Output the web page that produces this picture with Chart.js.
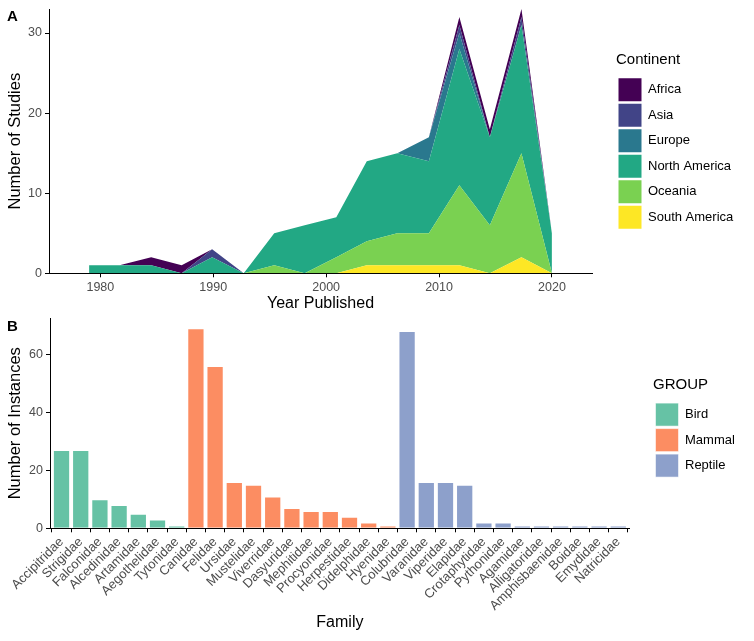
<!DOCTYPE html>
<html>
<head>
<meta charset="utf-8">
<script src="https://cdn.jsdelivr.net/npm/chart.js@4.4.1/dist/chart.umd.min.js"></script>
<style>
  html, body { margin: 0; padding: 0; background: #fff; }
  #wrap { position: relative; width: 754px; height: 641px; font-family: 'Liberation Sans', Arial, sans-serif; }
  canvas { position: absolute; left: 0; }
  #topChart { top: 0; }
  #bottomChart { top: 315px; }
  .panel { position: absolute; left: 7px; font-weight: bold; font-size: 15px; line-height: 1; color: #000; }
</style>
</head>
<body>
<div id="wrap">
  <canvas id="topChart" width="754" height="315"></canvas>
  <canvas id="bottomChart" width="754" height="326"></canvas>
  <div class="panel" style="top:8px">A</div>
  <div class="panel" style="top:318px">B</div>
</div>
<script>
// ---- panel A: studies per year, stacked by continent ----
const years = [1979.0, 1981.7, 1984.5, 1987.2, 1989.9, 1992.7, 1995.4, 1998.1, 2000.9, 2003.6, 2006.3, 2009.1, 2011.8, 2014.5, 2017.3, 2020.0];
const africa       = [0, 0, 1, 1, 0, 0, 0, 0, 0, 0, 0, 0, 1, 1, 1, 0];
const asia         = [0, 0, 0, 0, 1, 0, 0, 0, 0, 0, 0, 0, 1, 0, 1, 0];
const europe       = [0, 0, 0, 0, 0, 0, 0, 0, 0, 0, 0, 3, 2, 0, 0, 0];
const northAmerica = [1, 1, 1, 0, 2, 0, 4, 6, 5, 10, 10, 9, 17, 11, 16, 5];
const oceania      = [0, 0, 0, 0, 0, 0, 1, 0, 2, 3, 4, 4, 10, 6, 13, 0];
const southAmerica = [0, 0, 0, 0, 0, 0, 0, 0, 0, 1, 1, 1, 1, 0, 2, 0];
const continents = ['Africa', 'Asia', 'Europe', 'North America', 'Oceania', 'South America'];
const continentCounts = [africa, asia, europe, northAmerica, oceania, southAmerica];
const yearTicks = [1980, 1990, 2000, 2010, 2020];
const studyTicks = [0, 10, 20, 30];

// ---- panel B: instances per family ----
const families = ['Accipitridae', 'Strigidae', 'Falconidae', 'Alcedinidae', 'Artamidae', 'Aegothelidae', 'Tytonidae',
  'Canidae', 'Felidae', 'Ursidae', 'Mustelidae', 'Viverridae', 'Dasyuridae', 'Mephitidae', 'Procyonidae', 'Herpestidae', 'Didelphidae', 'Hyenidae',
  'Colubridae', 'Varanidae', 'Viperidae', 'Elapidae', 'Crotaphytidae', 'Pythonidae', 'Agamidae', 'Alligatoridae', 'Amphisbaenidae', 'Boidae', 'Emydidae', 'Natricidae'];
const instances = [27, 27, 10, 8, 5, 3, 1,
  69, 56, 16, 15, 11, 7, 6, 6, 4, 2, 1,
  68, 16, 16, 15, 2, 2, 1, 1, 1, 1, 1, 1];
const familyGroup = ['Bird', 'Bird', 'Bird', 'Bird', 'Bird', 'Bird', 'Bird',
  'Mammal', 'Mammal', 'Mammal', 'Mammal', 'Mammal', 'Mammal', 'Mammal', 'Mammal', 'Mammal', 'Mammal', 'Mammal',
  'Reptile', 'Reptile', 'Reptile', 'Reptile', 'Reptile', 'Reptile', 'Reptile', 'Reptile', 'Reptile', 'Reptile', 'Reptile', 'Reptile'];
const groupNames = ['Bird', 'Mammal', 'Reptile'];
const instanceTicks = [0, 20, 40, 60];

// colours
const viridis = ['#440154', '#414487', '#2A788E', '#22A884', '#7AD151', '#FDE725'];
const set2 = ['#66C2A5', '#FC8D62', '#8DA0CB'];

Chart.defaults.font.family = "'Liberation Sans', Arial, sans-serif";
Chart.defaults.color = '#4D4D4D';

// legend sits a bit away from the panel, like ggplot's legend.box.spacing
function legendPlacement(width, dx, dy) {
  return {
    id: 'legendPlacement',
    beforeInit(chart) {
      const fit = chart.legend.fit;
      chart.legend.fit = function () { fit.call(this); this.width = width; };
    },
    afterLayout(chart) {
      const lg = chart.legend;
      lg.left += dx; lg.right += dx;
      lg.top += dy; lg.bottom += dy;
    }
  };
}

function axisBase() {
  return {
    grid: { drawOnChartArea: false, drawTicks: true, tickLength: 4, color: '#000' },
    border: { display: true, color: '#000', width: 1 },
  };
}

function legendOpts(title) {
  return {
    position: 'right',
    labels: { boxWidth: 23, boxHeight: 23, padding: 2.5, color: '#000', font: { size: 13 } },
    title: { display: true, text: title, position: 'start', color: '#000', font: { size: 15 }, padding: { top: 0, bottom: 5 } }
  };
}

// stack from the bottom: South America first, Africa last
const areaSets = [];
for (let i = continents.length - 1; i >= 0; i--) {
  areaSets.push({
    label: continents[i],
    data: years.map((yr, j) => ({ x: yr, y: continentCounts[i][j] })),
    backgroundColor: viridis[i],
    borderColor: viridis[i],
    borderWidth: 0,
    pointRadius: 0,
    tension: 0,
    fill: areaSets.length === 0 ? 'origin' : '-1'
  });
}

new Chart(document.getElementById('topChart'), {
  type: 'line',
  data: { datasets: areaSets },
  options: {
    responsive: false,
    animation: false,
    events: [],
    layout: { padding: { top: 9, left: 0, right: 0, bottom: 0 } },
    scales: {
      x: Object.assign(axisBase(), {
        type: 'linear', min: 1975.45, max: 2023.55,
        afterBuildTicks: s => { s.ticks = yearTicks.map(v => ({ value: v })); },
        afterFit: s => { s.height = 41.7; s.paddingLeft = 0; s.paddingRight = 0; },
        ticks: { callback: v => String(v), font: { size: 12.5 }, padding: 2.5, maxRotation: 0 },
        title: { display: true, text: 'Year Published', color: '#000', font: { size: 16 }, padding: { top: 0, bottom: 2 } }
      }),
      y: Object.assign(axisBase(), {
        stacked: true, min: 0, max: 33,
        afterBuildTicks: s => { s.ticks = studyTicks.map(v => ({ value: v })); },
        afterFit: s => { s.width = 49; s.paddingTop = 0; s.paddingBottom = 0; },
        ticks: { font: { size: 12.5 }, padding: 3 },
        title: { display: true, text: 'Number of Studies', color: '#000', font: { size: 16.5 }, padding: { top: 5.5, bottom: 0 } }
      })
    },
    plugins: {
      legend: Object.assign(legendOpts('Continent'), { reverse: true }),
      tooltip: { enabled: false }
    }
  },
  plugins: [legendPlacement(162, 24, -20)]
});

const barSets = groupNames.map((g, k) => ({
  label: g,
  data: families.map((f, i) => ({ x: i, y: instances[i], g: familyGroup[i] }))
    .filter(p => p.g === g)
    .map(p => ({ x: p.x, y: p.y })),
  backgroundColor: set2[k],
  borderColor: 'rgba(255,255,255,0.55)',
  borderWidth: 1,
  grouped: false,
  barPercentage: 0.9,
  categoryPercentage: 1.0
}));

new Chart(document.getElementById('bottomChart'), {
  type: 'bar',
  data: { datasets: barSets },
  options: {
    responsive: false,
    animation: false,
    events: [],
    layout: { padding: { top: 3.2, left: 0, right: 0, bottom: 0 } },
    scales: {
      x: Object.assign(axisBase(), {
        type: 'linear', min: -0.6, max: families.length - 0.4, offset: false,
        afterBuildTicks: s => { s.ticks = families.map((f, i) => ({ value: i })); },
        afterFit: s => { s.height = 112.7; s.paddingLeft = 0; s.paddingRight = 0; },
        ticks: { callback: v => families[v], autoSkip: false, minRotation: 45, maxRotation: 45, font: { size: 13 }, padding: 2 },
        title: { display: true, text: 'Family', color: '#000', font: { size: 16 }, padding: { top: 0, bottom: 8.4 } }
      }),
      y: Object.assign(axisBase(), {
        min: 0, max: 72.45,
        afterBuildTicks: s => { s.ticks = instanceTicks.map(v => ({ value: v })); },
        afterFit: s => { s.width = 50; s.paddingTop = 0; s.paddingBottom = 0; },
        ticks: { font: { size: 12.5 }, padding: 3 },
        title: { display: true, text: 'Number of Instances', color: '#000', font: { size: 16.5 }, padding: { top: 5.5, bottom: 0 } }
      })
    },
    plugins: {
      legend: legendOpts('GROUP'),
      tooltip: { enabled: false }
    }
  },
  plugins: [legendPlacement(124.2, 23.2, -51)]
});
</script>
</body>
</html>
